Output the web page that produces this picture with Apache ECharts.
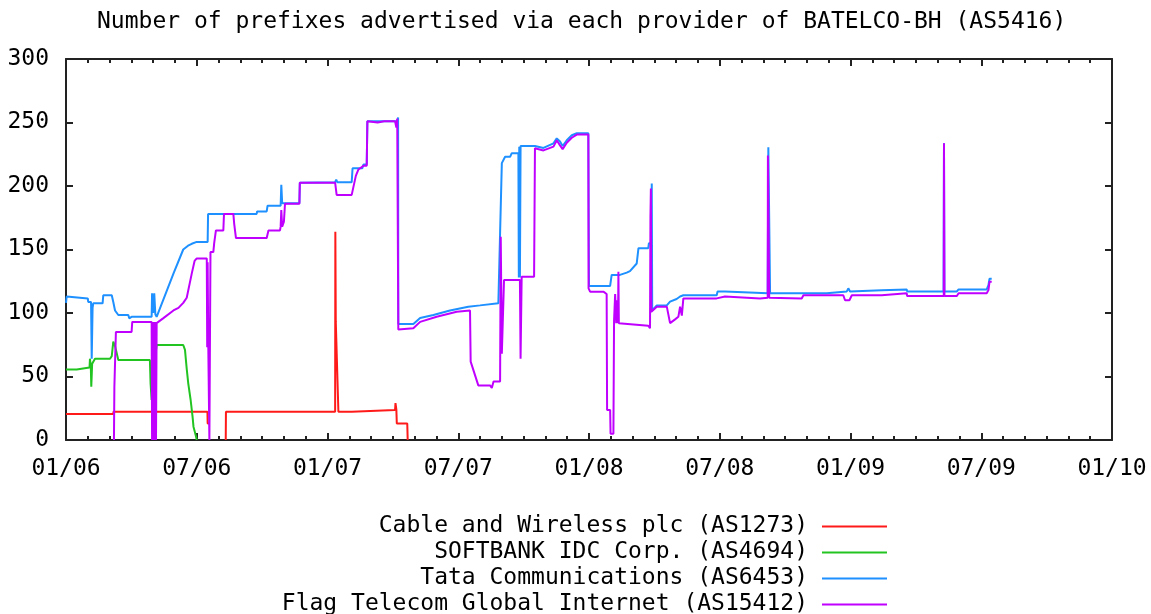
<!DOCTYPE html>
<html>
<head>
<meta charset="utf-8">
<title>BATELCO-BH providers</title>
<script src="https://cdn.jsdelivr.net/npm/echarts@6/dist/echarts.min.js"></script>
<style>
  html, body { margin: 0; padding: 0; background: #fff; }
  #chart { width: 1151px; height: 614px; }
</style>
</head>
<body>
<div id="chart"></div>
<script>
// x = months since 01/2006, y = number of prefixes; '-' breaks the line
const xTickLabels = ['01/06', '07/06', '01/07', '07/07', '01/08', '07/08', '01/09', '07/09', '01/10']

const seriesNames = [
  'Cable and Wireless plc (AS1273)',
  'SOFTBANK IDC Corp. (AS4694)',
  'Tata Communications (AS6453)',
  'Flag Telecom Global Internet (AS15412)',
]

const cableWireless = [
  [0, 20.5], [2.17, 20.5], [2.18, 22.3], [6.49, 22.3], [6.5, 13], [6.58, 13], [6.6, '-'],
  [7.33, 0], [7.34, 22.3], [12.35, 22.3], [12.36, 164], [12.38, 93], [12.46, 93], [12.5, 22.3],
  [13.11, 22.3], [13.12, 23.6], [15.1, 23.6], [15.12, 29], [15.16, 24], [15.18, 13],
  [15.66, 13], [15.68, 0],
]

const softbank = [
  [0, 55.6], [0.49, 55.6], [0.52, 57], [1.08, 57], [1.1, 64], [1.14, 57], [1.16, 42], [1.2, 60],
  [1.33, 64], [2.02, 64], [2.1, 66], [2.17, 77.4], [2.25, 74], [2.33, 73.5], [2.4, 63],
  [3.85, 63], [3.88, 45], [3.93, 31.5], [3.98, 50], [4.16, 74.8], [5.38, 74.8], [5.46, 71],
  [5.54, 56], [5.61, 44.6], [5.72, 31.5], [5.81, 18], [5.85, 10.5], [5.97, 2.6], [6.0, 0],
]

const tata = [
  [0, 108], [0.03, 113], [0.05, 111.5], [1.0, 111.5], [1.02, 108.7], [1.15, 108.7], [1.18, 64],
  [1.22, 104], [1.25, 107.6], [1.68, 107.6], [1.71, 114], [2.1, 114], [2.17, 108.7], [2.25, 102],
  [2.4, 98.4], [2.86, 98.4], [2.9, 95.8], [3.01, 97], [3.93, 97], [3.95, 115.5], [4.0, 100],
  [4.05, 115.5], [4.1, 99], [4.16, 97], [4.93, 131], [5.38, 150], [5.6, 153], [5.77, 154.5],
  [6.0, 156], [6.5, 156], [6.52, 178], [8.75, 178], [8.77, 180], [9.21, 180], [9.25, 184.5],
  [9.85, 184.5], [9.88, 201], [9.92, 186.4], [10.71, 186.4], [10.73, 202.6], [12.35, 203],
  [12.4, 205], [12.45, 203], [13.11, 203], [13.15, 214], [13.6, 214], [13.65, 217], [13.8, 217],
  [13.83, 251], [15.22, 251], [15.24, 254], [15.25, 91.3], [15.94, 91.3], [16.25, 96],
  [16.86, 98.4], [17.62, 102], [18.46, 105], [19.0, 106], [19.84, 107.6], [19.92, 163],
  [20.0, 218], [20.15, 223], [20.38, 223], [20.45, 225.7], [20.76, 225.7], [20.78, 128],
  [20.8, 231], [20.83, 128], [20.86, 231.5], [21.52, 231.5], [21.6, 230], [21.91, 230],
  [22.37, 233.6], [22.52, 237.5], [22.67, 235], [22.79, 231.5], [22.98, 236], [23.21, 240],
  [23.44, 241.5], [23.97, 241.5], [24.0, 121.3], [24.97, 121.3], [25.04, 130], [25.42, 130],
  [25.73, 131.8], [25.88, 133], [26.19, 139], [26.27, 151], [26.72, 151], [26.75, 155],
  [26.85, 155], [26.88, 202], [26.9, 102], [27.11, 106], [27.57, 106], [27.72, 109],
  [28.02, 111], [28.18, 113], [28.33, 114], [29.86, 114], [29.9, 117], [30.24, 117],
  [30.3, 115.5], [32.2, 115.5], [32.23, 230.5], [32.27, 230.5], [32.31, 115.5], [34.91, 115.5],
  [34.99, 117], [35.83, 117], [35.9, 119.4], [35.98, 117], [36.06, 118], [37.43, 118],
  [37.51, 118.6], [38.58, 118.6], [38.6, 117], [40.27, 117], [40.29, 233.6], [40.31, 117],
  [40.88, 117], [40.96, 118.6], [42.25, 118.6], [42.33, 122], [42.38, 127], [42.48, 127],
]

const flag = [
  [2.2, 0], [2.22, 42], [2.27, 42], [2.29, 85], [3.01, 85], [3.04, 93], [3.93, 93], [3.95, 0],
  [3.98, 93], [4.0, 0], [4.03, 93], [4.06, 0], [4.1, 93], [4.13, 0], [4.16, 92], [4.47, 96],
  [4.93, 102], [5.16, 104], [5.38, 108], [5.54, 112], [5.77, 131], [5.9, 141], [6.0, 143],
  [6.46, 143], [6.48, 73], [6.5, 140], [6.53, 73], [6.58, 0], [6.61, 0], [6.63, 148],
  [6.76, 148], [6.8, 155], [6.88, 165], [7.22, 165], [7.25, 178], [7.68, 178], [7.72, 170],
  [7.8, 159], [9.21, 159], [9.29, 165], [9.82, 165], [9.85, 168], [9.88, 181], [9.92, 168],
  [10.0, 172], [10.05, 186], [10.71, 186], [10.73, 202.6], [12.35, 202.6], [12.42, 193],
  [13.11, 193], [13.3, 208], [13.42, 213], [13.65, 216], [13.8, 216], [13.83, 251], [14.3, 250],
  [14.6, 251], [15.1, 251], [15.16, 246], [15.2, 253], [15.25, 87], [15.94, 88], [16.0, 86.6],
  [16.25, 93], [17.01, 97], [17.93, 101], [18.54, 102], [18.57, 61.7], [18.92, 43], [19.46, 43],
  [19.54, 41], [19.62, 46], [19.92, 46], [19.95, 160], [20.0, 68], [20.08, 68], [20.1, 126],
  [20.83, 126], [20.86, 64], [20.91, 128.6], [21.48, 128.6], [21.52, 229.7], [21.91, 228],
  [22.37, 231], [22.52, 236], [22.67, 232], [22.79, 229], [22.98, 234], [23.21, 238],
  [23.44, 240.5], [23.97, 240.5], [23.98, 119.4], [24.05, 116.8], [24.66, 116.8], [24.81, 115],
  [24.83, 23.6], [24.97, 23.6], [24.99, 5], [25.12, 5], [25.15, 94], [25.2, 115], [25.25, 92],
  [25.3, 110], [25.33, 92], [25.35, 132.5], [25.37, 92], [26.72, 90], [26.8, 88], [26.82, 176],
  [26.84, 198], [26.86, 101], [27.11, 105], [27.57, 105], [27.72, 92], [27.95, 95], [28.1, 97],
  [28.18, 105], [28.26, 98], [28.33, 111.5], [29.86, 111.5], [29.9, 113], [30.24, 113],
  [30.32, 111.5], [31.85, 111.5], [31.93, 112], [32.2, 112], [32.21, 224], [32.25, 224],
  [32.27, 112], [33.76, 111.5], [33.84, 114], [35.67, 114], [35.75, 110], [35.95, 110],
  [36.06, 114], [37.43, 114], [37.51, 115.5], [38.58, 115.5], [38.6, 113.4], [40.28, 113.4],
  [40.29, 233.6], [40.31, 113.4], [40.88, 113.4], [40.96, 115.5], [42.25, 115.5], [42.33, 118],
  [42.38, 124.7], [42.48, 124.7],
]

const font = 'DejaVu Sans Mono'
const fontSize = 23
const frame = { show: true, onZero: false, lineStyle: { color: '#222', width: 2 } }
const tick = { show: true, inside: true, length: 7, lineStyle: { color: '#222', width: 2 } }
const minor = { show: true, splitNumber: 6, length: 4, lineStyle: { color: '#222', width: 2 } }

const chart = echarts.init(document.getElementById('chart'))

const lineSeries = (name, data, color) => ({
  name,
  type: 'line',
  data,
  showSymbol: false,
  symbol: 'none',
  lineStyle: { color, width: 2 },
  itemStyle: { color },
  animation: false,
})

chart.setOption({
  animation: false,
  title: {
    text: 'Number of prefixes advertised via each provider of BATELCO-BH (AS5416)',
    left: 97,
    top: 11,
    padding: 0,
    textStyle: { fontFamily: font, fontSize, fontWeight: 'normal', color: '#000' },
  },
  legend: {
    orient: 'vertical',
    right: 264,
    top: 515,
    height: 140,
    padding: 0,
    align: 'right',
    icon: 'rect',
    itemWidth: 65,
    itemHeight: 2,
    itemGap: 3,
    selectedMode: false,
    textStyle: { fontFamily: font, fontSize, lineHeight: 22, color: '#000', padding: [0, 9, 0, 0] },
    data: seriesNames,
  },
  grid: { left: 66, right: 39, top: 59, bottom: 174, containLabel: false },
  xAxis: [
    {
      type: 'value',
      min: 0,
      max: 48,
      interval: 6,
      axisLine: frame,
      axisTick: tick,
      minorTick: minor,
      splitLine: { show: false },
      axisLabel: {
        margin: 18,
        fontFamily: font,
        fontSize,
        color: '#000',
        formatter: (v) => xTickLabels[Math.round(v / 6)],
      },
    },
    {
      type: 'value',
      position: 'top',
      min: 0,
      max: 48,
      interval: 6,
      axisLine: frame,
      axisTick: tick,
      minorTick: minor,
      splitLine: { show: false },
      axisLabel: { show: false },
    },
  ],
  yAxis: [
    {
      type: 'value',
      min: 0,
      max: 300,
      interval: 50,
      axisLine: frame,
      axisTick: tick,
      splitLine: { show: false },
      axisLabel: { margin: 17, fontFamily: font, fontSize, color: '#000' },
    },
    {
      type: 'value',
      position: 'right',
      min: 0,
      max: 300,
      interval: 50,
      axisLine: frame,
      axisTick: tick,
      splitLine: { show: false },
      axisLabel: { show: false },
    },
  ],
  series: [
    lineSeries(seriesNames[0], cableWireless, '#ff1a1a'),
    lineSeries(seriesNames[1], softbank, '#22c422'),
    lineSeries(seriesNames[2], tata, '#1e90ff'),
    lineSeries(seriesNames[3], flag, '#c000ff'),
  ],
})
</script>
</body>
</html>
